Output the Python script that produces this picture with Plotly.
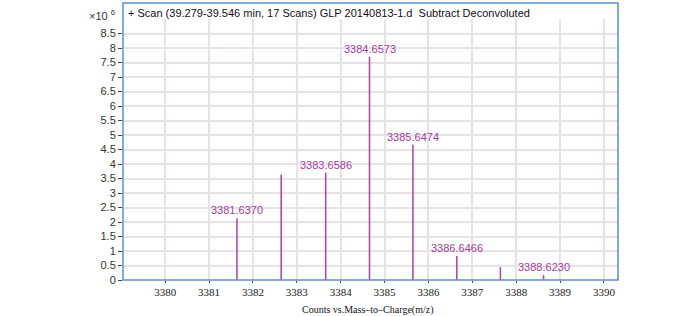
import plotly.graph_objects as go

# Data
peak_mz = [3381.6370, 3382.645, 3383.6586, 3384.6573, 3385.6474, 3386.6466, 3387.64, 3388.6230]
peak_counts = [2.13, 3.64, 3.70, 7.70, 4.66, 0.83, 0.44, 0.17]  # x10^6
peak_labels = ["3381.6370", "", "3383.6586", "3384.6573", "3385.6474", "3386.6466", "", "3388.6230"]

x_ticks = [3380, 3381, 3382, 3383, 3384, 3385, 3386, 3387, 3388, 3389, 3390]
y_ticks = [0, 0.5, 1, 1.5, 2, 2.5, 3, 3.5, 4, 4.5, 5, 5.5, 6, 6.5, 7, 7.5, 8, 8.5]
y_tick_text = ["0", "0.5", "1", "1.5", "2", "2.5", "3", "3.5", "4", "4.5", "5", "5.5",
               "6", "6.5", "7", "7.5", "8", "8.5"]

title_text = "+ Scan (39.279-39.546 min, 17 Scans) GLP 20140813-1.d  Subtract Deconvoluted"
x_title = "Counts vs.Mass\u2013to\u2013Charge(m/z)"

stick_color = "#b04aa4"
label_color = "#a0409a"
frame_color = "#5b8fd0"
grid_color = "#e8e2e8"

xs, ys = [], []
for m, c in zip(peak_mz, peak_counts):
    xs += [m, m, None]
    ys += [0, c, None]

fig = go.Figure()
fig.add_trace(go.Scatter(x=xs, y=ys, mode="lines",
                         line=dict(color=stick_color, width=1.6),
                         hoverinfo="skip", showlegend=False))

for m, c, t in zip(peak_mz, peak_counts, peak_labels):
    if t:
        fig.add_annotation(x=m, y=c, text=t, showarrow=False, xanchor="center",
                           yanchor="bottom", yshift=0,
                           font=dict(family="Liberation Sans, Arial", size=11, color=label_color))

plot_h = 316 - 19 - 36

fig.add_annotation(xref="paper", yref="paper", x=0, y=1 + (19 - 12.5) / plot_h,
                   xanchor="left", yanchor="middle", xshift=3, text=title_text,
                   showarrow=False,
                   font=dict(family="Liberation Sans, Arial", size=11, color="#111"))
fig.add_annotation(xref="paper", yref="paper", x=0, y=1 + (19 - 14.5) / plot_h,
                   xanchor="right", yanchor="middle", xshift=-6,
                   text="\u00d710 <sup>6</sup>", showarrow=False,
                   font=dict(family="Liberation Sans, Arial", size=11, color="#333"))
fig.add_annotation(xref="paper", yref="paper", x=0.5, y=0, yshift=-30,
                   xanchor="center", yanchor="middle", text=x_title, showarrow=False,
                   xshift=-3,
                   font=dict(family="Liberation Serif, Times New Roman", size=10, color="#111"))

fig.add_shape(type="rect", xref="paper", yref="paper", x0=0, x1=1, y0=0,
              y1=1 + 16 / plot_h, line=dict(color=frame_color, width=1.5),
              fillcolor="rgba(0,0,0,0)", layer="above")

fig.update_layout(
    width=700, height=316,
    margin=dict(l=123, r=82, t=19, b=36),
    paper_bgcolor="white", plot_bgcolor="white",
    xaxis=dict(range=[3379.04, 3390.32], tickvals=x_ticks,
               ticktext=[str(v) for v in x_ticks],
               showgrid=True, gridcolor=grid_color, gridwidth=1.5,
               zeroline=False, showline=False, ticks="outside", ticklen=2,
               tickcolor="#444",
               tickfont=dict(family="Liberation Serif, Times New Roman", size=11, color="#222")),
    yaxis=dict(range=[0, 9], tickvals=y_ticks, ticktext=y_tick_text,
               showgrid=True, gridcolor=grid_color, gridwidth=1.5,
               zeroline=False, showline=False, ticks="outside", ticklen=4,
               tickcolor="#444",
               tickfont=dict(family="Liberation Sans, Arial", size=11, color="#333")),
)

fig.write_html("out.html", config={"displayModeBar": False},
               post_script="document.body.style.margin='0';document.body.style.padding='0';")
